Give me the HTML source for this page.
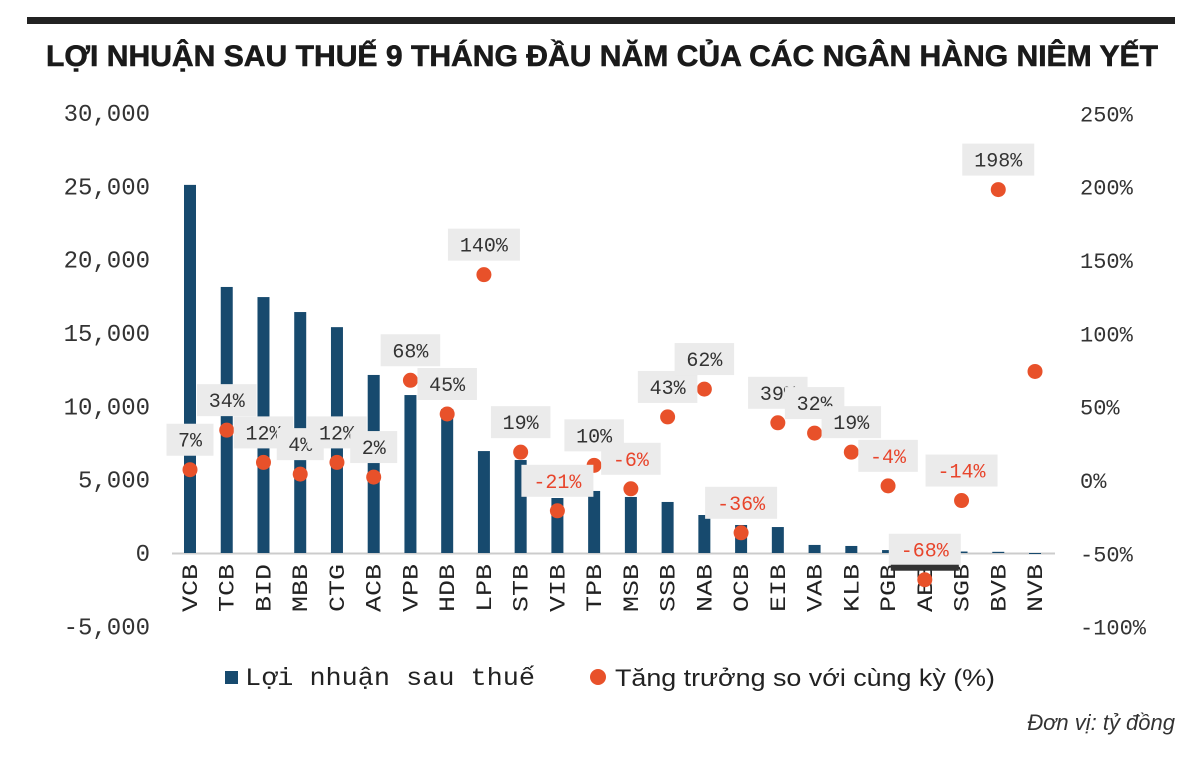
<!DOCTYPE html>
<html><head><meta charset="utf-8"><style>
body{margin:0;background:#fff;width:1200px;height:752px;overflow:hidden}
svg text{font-family:"Liberation Mono",monospace}
</style></head><body>
<svg width="1200" height="752">
<rect x="27" y="17" width="1148" height="7" fill="#222"/>
<text x="602" y="66" text-anchor="middle" font-size="30" font-weight="bold" style="font-family:'Liberation Sans',sans-serif" textLength="1112" lengthAdjust="spacingAndGlyphs" fill="#1a1a1a" stroke="#1a1a1a" stroke-width="0.6">LỢI NHUẬN SAU THUẾ 9 THÁNG ĐẦU NĂM CỦA CÁC NGÂN HÀNG NIÊM YẾT</text>
<g id="yl"></g><g id="yr"></g><g id="bars"></g><g id="xl"></g><g id="dots"></g><g id="labs"></g>
<rect x="225" y="671" width="13" height="13" fill="#174a6e"/>
<text x="245" y="685" font-size="25" textLength="290" lengthAdjust="spacingAndGlyphs" fill="#222">Lợi nhuận sau thuế</text>
<circle cx="598" cy="677" r="8" fill="#e8512a"/>
<text x="615" y="686" font-size="24" textLength="380" lengthAdjust="spacingAndGlyphs" style="font-family:'Liberation Sans',sans-serif" fill="#222">Tăng trưởng so với cùng kỳ (%)</text>
<text x="1175" y="730" text-anchor="end" font-size="22" font-style="italic" style="font-family:'Liberation Sans',sans-serif" fill="#333">Đơn vị: tỷ đồng</text>
</svg>
<script>
const categories=["VCB","TCB","BID","MBB","CTG","ACB","VPB","HDB","LPB","STB","VIB","TPB","MSB","SSB","NAB","OCB","EIB","VAB","KLB","PGB","ABB","SGB","BVB","NVB"];
const profit=[25100,18140,17450,16430,15400,12140,10770,9820,6950,6340,3750,4230,3820,3480,2590,1910,1770,550,480,200,50,100,80,-50];
const growth=[7,34,12,4,12,2,68,45,140,19,-21,10,-6,43,62,-36,39,32,19,-4,-68,-14,198,74];
const showLabel=[1,1,1,1,1,1,1,1,1,1,1,1,1,1,1,1,1,1,1,1,1,1,1,0];
const leftTicks=[30000,25000,20000,15000,10000,5000,0,-5000];
const rightTicks=[250,200,150,100,50,0,-50,-100];
const NS="http://www.w3.org/2000/svg";
const yL=v=>553-v*73.33/5000, yR=v=>480-v*73.33/50, xC=i=>190+i*36.74;
function mk(p,t,a){const e=document.createElementNS(NS,t);for(const k in a)e.setAttribute(k,a[k]);document.getElementById(p).appendChild(e);return e;}
leftTicks.forEach(v=>{const t=mk("yl","text",{x:150,y:yL(v)+8,"text-anchor":"end","font-size":24,fill:"#333"});t.textContent=v.toLocaleString("en-US");

});
rightTicks.forEach(v=>{const t=mk("yr","text",{x:1080,y:yR(v)+8,"font-size":22,fill:"#333"});t.textContent=v+"%";

});
const ax=mk("bars","line",{x1:172,x2:1055,y1:553.5,y2:553.5,stroke:"#ccc","stroke-width":2});


categories.forEach((c,i)=>{const x=xC(i),v=profit[i];
const b=mk("bars","rect",{x:x-6,y:Math.min(yL(v),yL(0)),width:12,height:Math.max(1,Math.abs(yL(v)-yL(0))),fill:"#174a6e"});


const t=mk("xl","text",{x:0,y:0,transform:`translate(${x+7},612) rotate(-90)`,"font-size":22,textLength:48,lengthAdjust:"spacingAndGlyphs",fill:"#222",style:"font-family:'Liberation Mono',monospace"});t.textContent=c;


const cy=yR(growth[i]);
const d=mk("dots","circle",{cx:x,cy:cy,r:7.5,fill:"#e8512a"});


if(showLabel[i]){const s=growth[i]+"%",w=s.length*12.5+22,ly=cy-30;
const r=mk("labs","rect",{x:x-w/2,y:ly-16,width:w,height:32,fill:"#ebebeb"});


const t2=mk("labs","text",{x:x,y:ly+7,"text-anchor":"middle","font-size":20,fill:growth[i]<0?"#e8452c":"#333"});t2.textContent=s;


if(c==="ABB"){const k=mk("labs","rect",{x:x-34,y:ly+15,width:68,height:6,fill:"#333"});

}}
});
</script>
</body></html>
